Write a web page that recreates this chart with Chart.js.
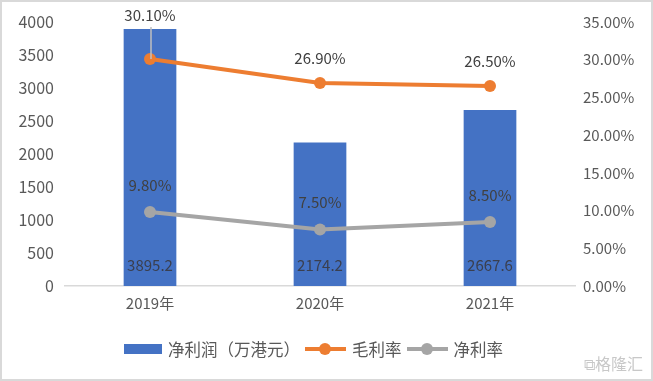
<!DOCTYPE html>
<html><head><meta charset="utf-8">
<script src="https://cdn.jsdelivr.net/npm/chart.js@4/dist/chart.umd.min.js"></script>
<style>
html,body{margin:0;padding:0;background:#fff;}
#wrap{position:relative;width:653px;height:381px;box-sizing:border-box;border:2px solid #d9d9d9;}
canvas{position:absolute;left:-2px;top:-2px;}
#legend{position:absolute;left:122px;top:335px;display:flex;justify-content:flex-start;align-items:center;font-family:"Noto Sans CJK SC",sans-serif;font-size:16.5px;color:#595959;}
.li{display:flex;align-items:center;margin:0 5px 0 0;}
.box{width:38px;height:10px;background:#4472C4;margin-right:6px;}
.ln{position:relative;width:41px;height:4px;margin-right:6px;}
.ln i{position:absolute;left:14px;top:-4px;width:12px;height:12px;border-radius:50%;}
#wm{position:absolute;right:8px;top:349px;font-family:"Noto Sans CJK SC",sans-serif;font-size:16px;color:#c8c8c8;}
</style></head>
<body>
<div id="wrap">
<canvas id="c" width="653" height="381"></canvas>
<div id="legend"></div>
<div id="wm">⧉格隆汇</div>
</div>
<script>
const categories = ["2019年","2020年","2021年"];
const netProfit = [3895.2, 2174.2, 2667.6];
const grossMargin = [30.10, 26.90, 26.50];
const netMargin = [9.80, 7.50, 8.50];
const leftTicks = [0,500,1000,1500,2000,2500,3000,3500,4000];
const rightTicks = [0,5,10,15,20,25,30,35];
const seriesNames = ["净利润（万港元）","毛利率","净利率"];
const colors = {bar:"#4472C4", gross:"#ED7D31", net:"#A5A5A5"};
const gmLabelLift = [44, 25, 25];
const nmLabelLift = [27, 27, 27];

const FONT = "Noto Sans CJK SC";
const labelPlugin = {
  id:"labels",
  afterDatasetsDraw(chart){
    const ctx = chart.ctx;
    ctx.save();
    ctx.font = "15px '"+FONT+"'";
    ctx.textAlign = "center";
    ctx.textBaseline = "middle";
    const m0 = chart.getDatasetMeta(0);
    m0.data.forEach((el,i)=>{
      ctx.fillStyle = "#3a3f4f";
      ctx.fillText(netProfit[i].toFixed(1), el.x, el.base - 21);
    });
    const m1 = chart.getDatasetMeta(1);
    m1.data.forEach((el,i)=>{
      const ly = el.y - gmLabelLift[i];
      if (gmLabelLift[i] > 30) {
        ctx.strokeStyle = "#bfbfbf"; ctx.lineWidth = 1.5;
        ctx.beginPath(); ctx.moveTo(el.x+1, el.y); ctx.lineTo(el.x+1, ly+12); ctx.stroke();
      }
      ctx.fillStyle = "#404040";
      ctx.fillText(grossMargin[i].toFixed(2)+"%", el.x, ly);
    });
    const m2 = chart.getDatasetMeta(2);
    m2.data.forEach((el,i)=>{
      ctx.fillStyle = "#404040";
      ctx.fillText(netMargin[i].toFixed(2)+"%", el.x, el.y - nmLabelLift[i]);
    });
    ctx.restore();
  }
};

new Chart(document.getElementById("c"), {
  data:{
    labels: categories,
    datasets:[
      {type:"bar", label:seriesNames[0], data:netProfit, backgroundColor:colors.bar, yAxisID:"y", barPercentage:0.62, categoryPercentage:0.5, order:3},
      {type:"line", label:seriesNames[1], data:grossMargin, borderColor:colors.gross, backgroundColor:colors.gross, borderWidth:4, pointRadius:6, pointBorderWidth:0, pointHoverRadius:6, yAxisID:"y1", order:1},
      {type:"line", label:seriesNames[2], data:netMargin, borderColor:colors.net, backgroundColor:colors.net, borderWidth:4, pointRadius:6, pointBorderWidth:0, pointHoverRadius:6, yAxisID:"y1", order:2}
    ]
  },
  options:{
    responsive:false, animation:false, devicePixelRatio:1,
    layout:{padding:{left:0,right:0,top:22,bottom:65}},
    plugins:{legend:{display:false}, tooltip:{enabled:false}},
    scales:{
      x:{grid:{display:false, drawTicks:false}, border:{display:true,color:"#d9d9d9",width:1.5},
         ticks:{color:"#595959", font:{family:FONT,size:15}, padding:8},
         afterFit:s=>{s.height=30;}},
      y:{position:"left", min:0, max:4000, grid:{display:false,drawTicks:false}, border:{display:false},
         afterBuildTicks:s=>{s.ticks = leftTicks.map(v=>({value:v}));},
         ticks:{color:"#595959", font:{family:FONT,size:16}, padding:11, callback:v=>String(v)},
         afterFit:s=>{s.width=65;}},
      y1:{position:"right", min:0, max:35, grid:{display:false,drawTicks:false}, border:{display:false},
         afterBuildTicks:s=>{s.ticks = rightTicks.map(v=>({value:v}));},
         ticks:{color:"#595959", font:{family:FONT,size:15}, padding:8, callback:v=>v.toFixed(2)+"%"},
         afterFit:s=>{s.width=78;}}
    }
  },
  plugins:[labelPlugin]
});

const lg = document.getElementById("legend");
lg.innerHTML =
 '<div class="li"><div class="box"></div><span>'+seriesNames[0]+'</span></div>'+
 '<div class="li"><div class="ln" style="background:'+colors.gross+'"><i style="background:'+colors.gross+'"></i></div><span>'+seriesNames[1]+'</span></div>'+
 '<div class="li"><div class="ln" style="background:'+colors.net+'"><i style="background:'+colors.net+'"></i></div><span>'+seriesNames[2]+'</span></div>';
</script>
</body></html>
